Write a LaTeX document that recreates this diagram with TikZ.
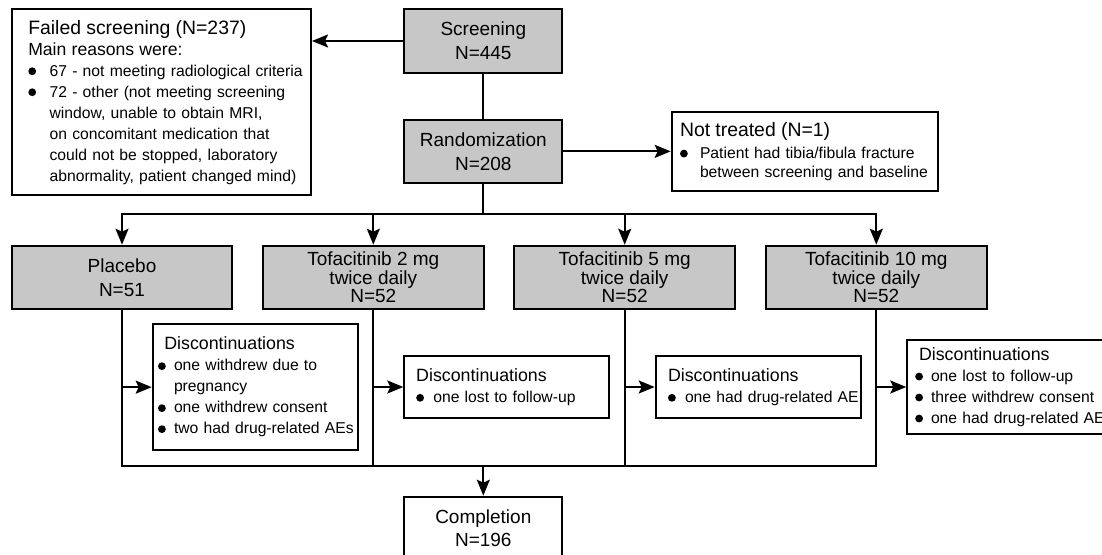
\documentclass[tikz,border=0pt]{standalone}
\usepackage{fontspec}
\setmainfont{Liberation Sans}
\usetikzlibrary{arrows.meta}

\newcommand{\bdot}{\tikz[baseline=-2.4pt]\fill (0pt,0pt) circle[radius=1.95pt];}
\newcommand{\bitem}[2][8.5pt]{\mbox{\makebox[#1][l]{\bdot}#2}}
\newcommand{\bnext}[2][8.5pt]{\mbox{\hspace*{#1}#2}}
\newcommand{\bhead}[3][0pt]{\mbox{\hspace*{#1}\fontsize{#2}{10}\selectfont #3}}

\begin{document}
\begin{tikzpicture}[x=0.5pt,y=-0.5pt]
%define
\tikzstyle{armbox} = [rectangle, draw=black, fill=black!22, line width=1pt, text centered, align=center, inner sep=0pt, font=\fontsize{9.5}{12}\selectfont]
\tikzstyle{notebox} = [rectangle, draw=black, fill=white, line width=1pt, align=left, inner ysep=0pt, font=\fontsize{7.85}{10.5}\selectfont]
\tikzstyle{arrow} = [-{Stealth[length=8pt,width=6.5pt,inset=1.5pt]}, line width=1pt]
\tikzstyle{link} = [line width=1pt]

\useasboundingbox (0,0) rectangle (1102,555);

% screening and randomization
\node[armbox, minimum width=79pt, minimum height=31.7pt](screen) at (483.3,41){Screening\\N=445};
\node[armbox, minimum width=79pt, minimum height=31.35pt](rand) at (483.3,151.35){Randomization\\N=208};

\node[notebox, text width=133.05pt, inner xsep=8.3pt, minimum height=92.85pt](failed) at (161.35,102.15){%
\bhead{9.7}{Failed screening (N=237)}\\
\bhead{8.8}{Main reasons were:}\\
\bitem[10.65pt]{67 - not meeting radiological criteria}\\
\bitem[10.65pt]{72 - other (not meeting screening}\\
\bnext[10.65pt]{window, unable to obtain MRI,}\\
\bnext[10.65pt]{on concomitant medication that}\\
\bnext[10.65pt]{could not be stopped, laboratory}\\
\bnext[10.65pt]{abnormality, patient changed mind)}};

\node[notebox, text width=124.7pt, inner xsep=4.15pt, minimum height=39.2pt, font=\fontsize{7.85}{9.65}\selectfont](nottreated) at (804.7,151.5){%
\bhead{9.7}{Not treated (N=1)}\\[1.5pt]
\bitem[10pt]{Patient had tibia/fibula fracture}\\
\bnext[10pt]{between screening and baseline}};

% treatment arms
\node[armbox, minimum width=110.3pt, minimum height=31.65pt](placebo) at (122,277.35){Placebo\\N=51};
\node[armbox, minimum width=110.3pt, minimum height=31.65pt, font=\fontsize{9.5}{9.15}\selectfont](tofa2) at (373.3,277.35){Tofacitinib 2 mg\\twice daily\\N=52};
\node[armbox, minimum width=110.3pt, minimum height=31.65pt, font=\fontsize{9.5}{9.15}\selectfont](tofa5) at (624.7,277.35){Tofacitinib 5 mg\\twice daily\\N=52};
\node[armbox, minimum width=110.3pt, minimum height=31.65pt, font=\fontsize{9.5}{9.15}\selectfont](tofa10) at (876.3,277.35){Tofacitinib 10 mg\\twice daily\\N=52};

% discontinuations
\node[notebox, text width=97.2pt, inner xsep=2.65pt, minimum height=62.85pt](disc_placebo) at (255.2,387.15){%
\bhead[3.15pt]{8.9}{Discontinuations}\\
\bitem[8pt]{one withdrew due to}\\
\bnext[8pt]{pregnancy}\\
\bitem[8pt]{one withdrew consent}\\
\bitem[8pt]{two had drug-related AEs}};
\node[notebox, text width=90.6pt, inner xsep=5.95pt, minimum height=31.3pt](disc_tofa2) at (506.8,387){%
\bhead{8.9}{Discontinuations}\\[0.3pt]
\bitem[8.55pt]{one lost to follow-up}};
\node[notebox, text width=90.35pt, inner xsep=6.15pt, minimum height=31.3pt](disc_tofa5) at (758.35,387){%
\bhead{8.9}{Discontinuations}\\[0.3pt]
\bitem[8.5pt]{one had drug-related AE}};
\node[notebox, text width=94.6pt, inner xsep=3.95pt, minimum height=47pt](disc_tofa10) at (1009.8,387){%
\bhead[1.9pt]{8.9}{Discontinuations}\\
\bitem[7.9pt]{one lost to follow-up}\\
\bitem[7.9pt]{three withdrew consent}\\
\bitem[7.9pt]{one had drug-related AE}};

\node[armbox, fill=white, minimum width=79pt, minimum height=31.65pt, font=\fontsize{9.5}{11.65}\selectfont](completion) at (483.3,528.35){Completion\\N=196};

\coordinate (split) at (483.3,214);
\coordinate (merge) at (483.3,465.7);

\draw[arrow](screen.west) -- (screen.west -| failed.east);
\draw[link](screen) -- (rand);
\draw[arrow](rand.east) -- (rand.east -| nottreated.west);
\draw[link](rand) -- (split);
\draw[arrow](split) -| (placebo.north);
\draw[arrow](split) -| (tofa2.north);
\draw[arrow](split) -| (tofa5.north);
\draw[arrow](split) -| (tofa10.north);

\draw[link](placebo.south) |- (merge);
\draw[link](tofa2.south) |- (merge);
\draw[link](tofa5.south) |- (merge);
\draw[link](tofa10.south) |- (merge);
\draw[arrow](placebo.south |- disc_placebo.west) -- (disc_placebo.west);
\draw[arrow](tofa2.south |- disc_tofa2.west) -- (disc_tofa2.west);
\draw[arrow](tofa5.south |- disc_tofa5.west) -- (disc_tofa5.west);
\draw[arrow](tofa10.south |- disc_tofa10.west) -- (disc_tofa10.west);
\draw[arrow](merge) -- (completion);

\end{tikzpicture}
\end{document}
